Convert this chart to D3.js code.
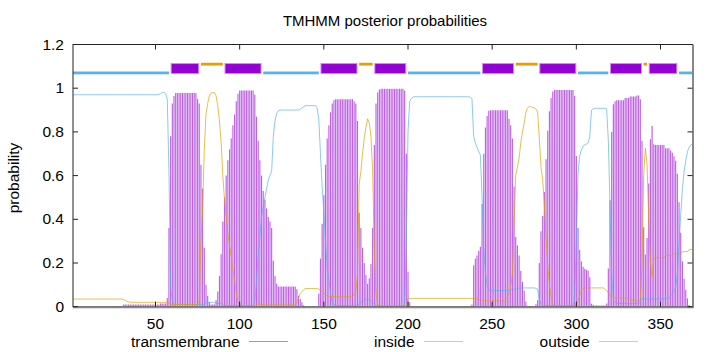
<!DOCTYPE html>
<html><head><meta charset="utf-8">
<script src="https://cdn.jsdelivr.net/npm/d3@7"></script>
<style>body{margin:0;background:#fff}svg{display:block}text{font-family:"Liberation Sans",Arial,sans-serif}</style>
</head><body>
<svg id="c" width="720" height="352"></svg>
<script>
// ---- data (per residue 1..369) ----
const insideProb = [
0.97,0.97,0.97,0.97,0.97,0.97,0.97,0.97,0.97,0.97,
0.97,0.97,0.97,0.97,0.97,0.97,0.97,0.97,0.97,0.97,
0.97,0.97,0.97,0.97,0.97,0.97,0.97,0.97,0.97,0.97,
0.97,0.97,0.97,0.97,0.97,0.97,0.97,0.97,0.97,0.97,
0.97,0.97,0.97,0.97,0.97,0.97,0.97,0.97,0.97,0.97,
0.97,0.972,0.975,0.98,0.982,0.975,0.95,0.62,0.08,0.03,
0.01,0.01,0.01,0.01,0.01,0.01,0.01,0.01,0.01,0.01,
0.01,0.01,0.01,0.01,0.01,0.01,0.01,0.01,0.01,0.02,
0.02,0.02,0.02,0.02,0.02,0.015,0.015,0.015,0.015,0.005,
0.005,0.005,0.005,0.005,0.005,0.005,0.005,0.005,0.005,0.005,
0.005,0.005,0.005,0.005,0.005,0.005,0.005,0.005,0.02,0.12,
0.23,0.32,0.41,0.46,0.5,0.54,0.58,0.6,0.62,0.78,
0.85,0.885,0.897,0.9,0.9,0.9,0.9,0.9,0.9,0.9,
0.9,0.9,0.9,0.9,0.9,0.905,0.91,0.915,0.92,0.92,
0.92,0.92,0.92,0.92,0.92,0.91,0.86,0.7,0.55,0.43,
0.3,0.18,0.12,0.06,0.02,0.01,0.005,0.005,0.005,0.005,
0.005,0.005,0.005,0.005,0.005,0.005,0.005,0.005,0.005,0.005,
0.01,0.02,0.03,0.03,0.035,0.035,0.03,0.025,0.02,0.01,
0.003,0.003,0.003,0.003,0.003,0.003,0.003,0.003,0.003,0.003,
0.003,0.003,0.003,0.003,0.003,0.003,0.003,0.01,0.3,0.8,
0.94,0.953,0.96,0.961,0.961,0.961,0.961,0.961,0.961,0.961,
0.961,0.961,0.961,0.961,0.961,0.961,0.961,0.961,0.961,0.961,
0.961,0.961,0.961,0.961,0.961,0.961,0.961,0.961,0.961,0.961,
0.961,0.961,0.961,0.961,0.961,0.961,0.958,0.953,0.78,0.75,
0.73,0.71,0.694,0.5,0.27,0.153,0.1,0.076,0.074,0.074,
0.074,0.074,0.074,0.074,0.074,0.074,0.074,0.074,0.074,0.074,
0.08,0.08,0.08,0.08,0.08,0.086,0.086,0.086,0.086,0.086,
0.086,0.086,0.086,0.086,0.086,0.084,0.08,0.03,0.015,0.005,
0.005,0.005,0.005,0.005,0.005,0.005,0.005,0.005,0.005,0.005,
0.005,0.005,0.005,0.005,0.005,0.005,0.005,0.005,0.03,0.3,
0.61,0.69,0.717,0.735,0.74,0.745,0.75,0.78,0.9,0.905,
0.908,0.908,0.908,0.908,0.908,0.908,0.908,0.905,0.76,0.46,
0.153,0.03,0.02,0.015,0.015,0.015,0.015,0.015,0.015,0.015,
0.015,0.015,0.015,0.015,0.015,0.015,0.015,0.02,0.038,0.036,
0.036,0.036,0.036,0.036,0.036,0.036,0.036,0.036,0.036,0.036,
0.036,0.036,0.04,0.04,0.04,0.05,0.06,0.07,0.09,0.15,
0.28,0.42,0.54,0.62,0.67,0.71,0.73,0.74,0.745
];
const outsideProb = [
0.035,0.035,0.035,0.035,0.035,0.035,0.035,0.035,0.035,0.035,
0.035,0.035,0.035,0.035,0.035,0.035,0.035,0.035,0.035,0.035,
0.035,0.035,0.035,0.035,0.035,0.035,0.035,0.035,0.035,0.035,
0.033,0.03,0.025,0.022,0.02,0.02,0.02,0.02,0.02,0.02,
0.02,0.02,0.02,0.02,0.02,0.02,0.02,0.02,0.02,0.02,
0.02,0.02,0.02,0.02,0.02,0.02,0.02,0.015,0.01,0.01,
0.01,0.01,0.01,0.01,0.01,0.01,0.01,0.01,0.01,0.01,
0.01,0.01,0.01,0.01,0.01,0.03,0.3,0.45,0.72,0.88,
0.93,0.965,0.978,0.98,0.98,0.965,0.92,0.85,0.75,0.6,
0.49,0.42,0.33,0.28,0.23,0.17,0.12,0.06,0.02,0.008,
0.005,0.005,0.005,0.005,0.005,0.005,0.005,0.005,0.005,0.012,
0.012,0.012,0.012,0.008,0.008,0.008,0.008,0.008,0.008,0.008,
0.008,0.008,0.008,0.008,0.008,0.008,0.008,0.008,0.008,0.008,
0.008,0.008,0.008,0.02,0.04,0.06,0.069,0.078,0.083,0.083,
0.083,0.083,0.083,0.083,0.083,0.083,0.08,0.076,0.07,0.06,
0.053,0.05,0.046,0.046,0.046,0.046,0.046,0.046,0.046,0.046,
0.046,0.046,0.046,0.046,0.046,0.046,0.046,0.055,0.065,0.15,
0.56,0.62,0.7,0.77,0.82,0.86,0.84,0.78,0.62,0.25,
0.06,0.015,0.003,0.003,0.003,0.003,0.003,0.003,0.003,0.003,
0.003,0.003,0.003,0.003,0.003,0.003,0.003,0.003,0.003,0.04,
0.038,0.038,0.038,0.038,0.038,0.038,0.038,0.038,0.038,0.038,
0.038,0.038,0.038,0.038,0.038,0.038,0.038,0.038,0.038,0.038,
0.038,0.038,0.038,0.038,0.038,0.038,0.038,0.038,0.038,0.038,
0.038,0.038,0.038,0.038,0.038,0.038,0.038,0.038,0.038,0.038,
0.036,0.034,0.032,0.03,0.027,0.027,0.027,0.027,0.027,0.027,
0.027,0.027,0.027,0.027,0.027,0.027,0.027,0.035,0.045,0.06,
0.09,0.15,0.37,0.6,0.64,0.68,0.75,0.8,0.84,0.89,
0.91,0.915,0.915,0.912,0.91,0.905,0.89,0.77,0.64,0.58,
0.47,0.32,0.19,0.1,0.04,0.01,0.003,0.003,0.003,0.003,
0.003,0.003,0.003,0.003,0.003,0.003,0.003,0.003,0.003,0.01,
0.03,0.05,0.076,0.082,0.086,0.086,0.086,0.086,0.086,0.086,
0.086,0.086,0.086,0.086,0.086,0.086,0.08,0.073,0.065,0.053,
0.048,0.044,0.04,0.04,0.04,0.04,0.04,0.04,0.04,0.04,
0.03,0.03,0.03,0.03,0.03,0.025,0.023,0.03,0.2,0.6,
0.725,0.65,0.4,0.2,0.137,0.22,0.224,0.224,0.224,0.224,
0.224,0.224,0.235,0.235,0.235,0.235,0.235,0.242,0.242,0.242,
0.242,0.242,0.252,0.252,0.252,0.252,0.262,0.262,0.262
];
const tmProb = [
0,0,0,0,0,0,0,0,0,0,
0,0,0,0,0,0,0,0,0,0,
0,0,0,0,0,0,0,0,0,0,
0.01,0.01,0.01,0.01,0.01,0.01,0.01,0.01,0.01,0.01,
0.01,0.01,0.01,0.01,0.01,0.01,0.01,0.01,0.01,0.01,
0.01,0.01,0.015,0.015,0.015,0.015,0.04,0.36,0.78,0.93,
0.964,0.978,0.978,0.978,0.978,0.978,0.978,0.978,0.978,0.978,
0.978,0.978,0.978,0.978,0.95,0.93,0.65,0.54,0.27,0.1,
0.05,0.02,0.01,0.01,0.01,0.03,0.07,0.14,0.24,0.39,
0.5,0.6,0.67,0.72,0.77,0.83,0.88,0.94,0.975,0.99,
0.99,0.99,0.99,0.99,0.99,0.99,0.99,0.99,0.97,0.87,
0.76,0.67,0.6,0.53,0.49,0.45,0.41,0.39,0.36,0.21,
0.14,0.105,0.092,0.092,0.092,0.092,0.092,0.092,0.092,0.092,
0.092,0.092,0.092,0.08,0.05,0.035,0.02,0.007,0.002,0.002,
0.002,0.002,0.002,0.002,0.002,0.002,0.06,0.22,0.38,0.51,
0.65,0.77,0.83,0.89,0.93,0.945,0.95,0.95,0.95,0.95,
0.95,0.95,0.95,0.95,0.95,0.95,0.95,0.94,0.93,0.85,
0.43,0.36,0.27,0.2,0.145,0.105,0.13,0.195,0.36,0.74,
0.93,0.98,0.994,0.997,0.997,0.997,0.997,0.997,0.997,0.997,
0.997,0.997,0.997,0.997,0.997,0.997,0.997,0.99,0.7,0.16,
0.02,0.001,0.001,0.001,0.001,0.001,0.001,0.001,0.001,0.001,
0.001,0.001,0.001,0.001,0.001,0.001,0.001,0.001,0.001,0.001,
0.001,0.001,0.001,0.001,0.001,0.001,0.001,0.001,0.001,0.001,
0.001,0.001,0.001,0.001,0.001,0.001,0.004,0.01,0.19,0.22,
0.234,0.256,0.274,0.47,0.7,0.82,0.873,0.897,0.899,0.899,
0.899,0.899,0.899,0.899,0.899,0.899,0.899,0.899,0.899,0.86,
0.83,0.77,0.55,0.32,0.28,0.234,0.164,0.114,0.074,0.024,
0.004,0.002,0.002,0.002,0.002,0.011,0.03,0.2,0.345,0.415,
0.525,0.675,0.805,0.895,0.955,0.985,0.992,0.992,0.992,0.992,
0.992,0.992,0.992,0.992,0.992,0.992,0.992,0.992,0.965,0.69,
0.36,0.26,0.207,0.183,0.174,0.169,0.164,0.135,0.014,0.009,
0.006,0.006,0.006,0.006,0.006,0.006,0.006,0.015,0.175,0.487,
0.8,0.926,0.94,0.945,0.945,0.945,0.945,0.945,0.955,0.955,
0.955,0.962,0.962,0.962,0.962,0.967,0.967,0.95,0.76,0.364,
0.239,0.314,0.564,0.766,0.827,0.744,0.74,0.74,0.74,0.74,
0.74,0.74,0.725,0.725,0.725,0.715,0.705,0.688,0.668,0.608,
0.478,0.338,0.208,0.128,0.078,0.038,0.008,0.003,0.002
];
// topology segments [start, end] (residues)
const insideSegs  = [[1,58],[114,147],[200,243],[301,319],[361,369]];
const outsideSegs = [[77,90],[171,179],[264,277],[340,342]];
const tmSegs      = [[59,76],[91,113],[148,170],[180,199],[244,263],[278,300],[320,339],[343,360]];
const xTicks = [50,100,150,200,250,300,350];
const yTicks = [0,0.2,0.4,0.6,0.8,1,1.2];
const yTickLabels = ["0","0.2","0.4","0.6","0.8","1","1.2"];
const seriesNames = ["transmembrane","inside","outside"];
const titleText = "TMHMM posterior probabilities";
const yLabel = "probability";

// ---- drawing ----
const svg = d3.select("#c");
const L=73, R=692.5, T=44.5, B=306.7;
const x = d3.scaleLinear().domain([1,369]).range([L,R]);
const y = d3.scaleLinear().domain([0,1.2]).range([B,T]);
const C = {tm:"#9400D3", inside:"#56B4E9", outside:"#E69F00"};
const residues = d3.range(1, tmProb.length+1);
const FS = 15.5;

// impulses
svg.append("g").selectAll("line").data(residues).join("line")
  .attr("x1",d=>x(d)).attr("x2",d=>x(d))
  .attr("y1",y(0)).attr("y2",d=>y(tmProb[d-1]))
  .attr("stroke",C.tm).attr("stroke-width",1.15).attr("stroke-opacity",0.62);

const line = arr => d3.line().x((d,i)=>x(i+1)).y(d=>y(d))(arr);
svg.append("path").attr("d",line(insideProb)).attr("fill","none").attr("stroke",C.inside).attr("stroke-width",1).attr("stroke-opacity",0.7);
svg.append("path").attr("d",line(outsideProb)).attr("fill","none").attr("stroke",C.outside).attr("stroke-width",1).attr("stroke-opacity",0.7);

// topology bars
svg.append("g").selectAll("rect").data(insideSegs).join("rect")
  .attr("x",d=>x(d[0])).attr("width",d=>x(d[1])-x(d[0]))
  .attr("y",y(1.07)-1.4).attr("height",2.8).attr("fill",C.inside);
svg.append("g").selectAll("rect").data(outsideSegs).join("rect")
  .attr("x",d=>x(d[0])).attr("width",d=>x(d[1])-x(d[0]))
  .attr("y",y(1.11)-1.4).attr("height",2.8).attr("fill",C.outside);
svg.append("g").selectAll("rect").data(tmSegs).join("rect")
  .attr("x",d=>x(d[0])+0.5).attr("width",d=>x(d[1])-x(d[0])-1)
  .attr("y",y(1.09)-5).attr("height",10).attr("fill",C.tm)
  .attr("stroke","#cf8cee").attr("stroke-width",1);

// frame
svg.append("rect").attr("x",L).attr("y",T).attr("width",R-L).attr("height",B-T)
  .attr("fill","none").attr("stroke","#222").attr("stroke-width",1);
svg.append("line").attr("x1",L).attr("x2",R+1).attr("y1",B+0.5).attr("y2",B+0.5).attr("stroke","#888").attr("stroke-width",2);
svg.append("line").attr("x1",R+0.5).attr("x2",R+0.5).attr("y1",T).attr("y2",B+1).attr("stroke","#888").attr("stroke-width",2);

// ticks
const tl = 5;
xTicks.forEach(t=>{
  svg.append("line").attr("x1",x(t)).attr("x2",x(t)).attr("y1",B).attr("y2",B-tl).attr("stroke","#222");
  svg.append("line").attr("x1",x(t)).attr("x2",x(t)).attr("y1",T).attr("y2",T+tl).attr("stroke","#222");
  svg.append("text").attr("x",x(t)).attr("y",B+22).attr("text-anchor","middle").attr("font-size",FS).text(t);
});
yTicks.forEach((t,i)=>{
  svg.append("line").attr("x1",L).attr("x2",L+tl).attr("y1",y(t)).attr("y2",y(t)).attr("stroke","#222");
  svg.append("line").attr("x1",R).attr("x2",R-tl).attr("y1",y(t)).attr("y2",y(t)).attr("stroke","#222");
  svg.append("text").attr("x",L-9).attr("y",y(t)+5).attr("text-anchor","end").attr("font-size",FS).text(yTickLabels[i]);
});
svg.append("text").attr("x",385).attr("y",25.5).attr("text-anchor","middle").attr("font-size",15).text(titleText);
svg.append("text").attr("transform","translate(19,178) rotate(-90)").attr("text-anchor","middle").attr("font-size",FS).text(yLabel);

// legend
const legend = [{n:seriesNames[0],tx:239.5,lx:249,c:"#c27ee6"},{n:seriesNames[1],tx:414.5,lx:424,c:"#a6d6ee"},{n:seriesNames[2],tx:589.5,lx:599,c:"#f0c676"}];
legend.forEach(l=>{
  svg.append("text").attr("x",l.tx).attr("y",347).attr("text-anchor","end").attr("font-size",FS).text(l.n);
  svg.append("line").attr("x1",l.lx).attr("x2",l.lx+39).attr("y1",341.5).attr("y2",341.5).attr("stroke",l.c).attr("stroke-width",1);
});

if (insideProb.length!==369||outsideProb.length!==369||tmProb.length!==369)
  throw new Error("lengths "+insideProb.length+" "+outsideProb.length+" "+tmProb.length);
</script>
</body></html>
